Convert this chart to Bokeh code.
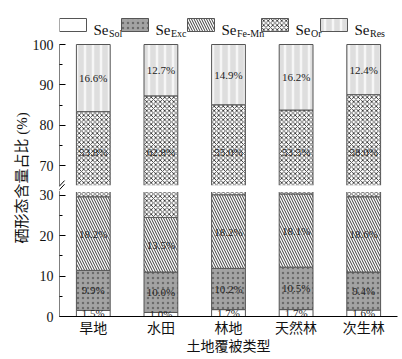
import numpy as np
from bokeh.plotting import figure
from bokeh.models import Range1d, FactorRange, FixedTicker, BoxAnnotation, Arrow, Title
from bokeh.core.properties import value
from bokeh.embed import file_html
from bokeh.resources import INLINE

# ---------------- data ----------------
categories = ["旱地", "水田", "林地", "天然林", "次生林"]
se_sol = [1.5, 1.0, 1.7, 1.7, 1.6]
se_exc = [9.9, 10.0, 10.2, 10.5, 9.4]
se_femn = [18.2, 13.5, 18.2, 18.1, 18.6]
se_or = [53.8, 62.8, 55.0, 53.5, 58.0]
se_res = [16.6, 12.7, 14.9, 16.2, 12.4]
series_subs = ["Sol", "Exc", "Fe-Mn", "Or", "Res"]
y_ticks_lower = [0, 10, 20, 30]
y_ticks_upper = [70, 80, 90, 100]
y_minor_lower = [5, 15, 25]
y_minor_upper = [75, 85, 95]

# ---------------- styling ----------------
SERIF = "Liberation Serif"
MIXED = "Liberation Serif, Noto Sans CJK SC"
TXT = "#111111"
styles = [
    dict(fill_color="white"),
    dict(fill_color="#a3a3a3", hatch_pattern="dot", hatch_color="#6a6a6a", hatch_scale=5, hatch_weight=1.2),
    dict(fill_color="white", hatch_pattern="left_diagonal_line", hatch_color="#222222", hatch_scale=5, hatch_weight=0.9),
    dict(fill_color="white", hatch_pattern="diagonal_cross", hatch_color="#333333", hatch_scale=4.5, hatch_weight=0.9),
    dict(fill_color="#dedede", hatch_pattern="vertical_line", hatch_color="#f6f6f6", hatch_scale=8, hatch_weight=2.5),
]
LINE = "#555555"

FRAME_W = 338
FRAME_H = 306          # whole frame (legend band on top)
CHART_H = 272          # pixel height of the bar area
PXX = len(categories) / FRAME_W   # x data units per pixel

# broken axis settings
LOW_TOP = 31.0
UP_BOTTOM = 65.0
GAP = 1.25
Y_TOP = LOW_TOP + GAP + (100 - UP_BOTTOM)
UP_OFFSET = UP_BOTTOM - LOW_TOP - GAP
Y_END = Y_TOP * FRAME_H / CHART_H
OR_LABEL_Y = 73.5
BAR_W = 0.5

series = [se_sol, se_exc, se_femn, se_or, se_res]
vals = np.array(series, dtype=float)
tops = np.cumsum(vals, axis=0)
bottoms = tops - vals

p = figure(x_range=FactorRange(*categories), y_range=Range1d(0, Y_END),
           frame_width=FRAME_W, frame_height=FRAME_H,
           output_backend="svg", toolbar_location=None,
           min_border_left=59, min_border_right=1, min_border_top=10, min_border_bottom=36)
p.extra_y_ranges = {"upper": Range1d(UP_OFFSET, UP_OFFSET + Y_END),
                    "px_y": Range1d(0, FRAME_H)}
p.grid.visible = False
p.outline_line_color = None

# ---------------- bars ----------------
for i in range(len(series)):
    b = bottoms[i]; t = tops[i]
    lb = np.minimum(b, LOW_TOP); lt = np.minimum(t, LOW_TOP)
    m = lt > lb + 1e-9
    if m.any():
        p.vbar(x=[c for c, k in zip(categories, m) if k], bottom=lb[m], top=lt[m], width=BAR_W,
               line_color=LINE, line_width=1, **styles[i])
    ub = np.maximum(b, UP_BOTTOM); ut = np.maximum(t, UP_BOTTOM)
    m = ut > ub + 1e-9
    if m.any():
        p.vbar(x=[c for c, k in zip(categories, m) if k], bottom=ub[m], top=ut[m], width=BAR_W,
               line_color=LINE, line_width=1, y_range_name="upper", **styles[i])

# white band hiding the cut edges
p.add_layout(BoxAnnotation(bottom=LOW_TOP - 0.2, top=LOW_TOP + GAP + 0.2, fill_color="white",
                           fill_alpha=1.0, line_color=None))

# ---------------- percentage labels ----------------
lab_kw = dict(text_font=value(SERIF), text_font_size="11px", text_align="center",
              text_baseline="middle", text_color="#222222")
for i in range(len(series)):
    txt = [f"{v:.1f}%" for v in vals[i]]
    mid = (bottoms[i] + tops[i]) / 2
    if i <= 2:
        p.text(x=categories, y=mid, text=txt, **lab_kw)
    elif i == 3:
        p.text(x=categories, y=[OR_LABEL_Y] * len(categories), text=txt, y_range_name="upper", **lab_kw)
    else:
        p.text(x=categories, y=mid, text=txt, y_range_name="upper", **lab_kw)

# ---------------- legend (pixel layout inside the top band) ----------------
box_left = [0, 62, 128, 202, 261]
box_w = 27
lg_bottom, lg_top = FRAME_H - 21, FRAME_H - 8
for i, sub in enumerate(series_subs):
    p.quad(left=[box_left[i] * PXX], right=[(box_left[i] + box_w) * PXX],
           bottom=[lg_bottom], top=[lg_top],
           line_color=LINE, line_width=1, y_range_name="px_y", **styles[i])
    sx = box_left[i] + box_w + 7
    p.text(x=[sx * PXX], y=[FRAME_H - 19.5], text=["Se"], text_font=value(SERIF), text_font_size="15px",
           text_baseline="alphabetic", text_color=TXT, y_range_name="px_y")
    p.text(x=[(sx + 15.5) * PXX], y=[FRAME_H - 22.8], text=[sub], text_font=value(SERIF),
           text_font_size="10px", text_baseline="alphabetic", text_color=TXT, y_range_name="px_y")

# ---------------- axes ----------------
ya = p.yaxis[0]
ya.bounds = (0, Y_TOP)
ya.ticker = FixedTicker(ticks=y_ticks_lower + [v - UP_OFFSET for v in y_ticks_upper],
                        minor_ticks=y_minor_lower + [v - UP_OFFSET for v in y_minor_upper])
ya.major_label_overrides = {v - UP_OFFSET: str(v) for v in y_ticks_upper}
ya.major_tick_in = 6
ya.major_tick_out = 0
ya.minor_tick_in = 3
ya.minor_tick_out = 0
ya.axis_line_color = None
ya.major_tick_line_color = "black"
ya.minor_tick_line_color = "black"
ya.major_label_text_font = SERIF
ya.major_label_text_font_size = "14px"
ya.major_label_text_color = TXT
ya.major_label_standoff = 6

xa = p.xaxis[0]
xa.major_tick_in = 0
xa.major_tick_out = 0
xa.axis_line_color = "black"
xa.major_label_text_font = MIXED
xa.major_label_text_font_size = "14px"
xa.major_label_text_color = TXT
xa.major_label_standoff = 4
xa.axis_label = "土地覆被类型"
xa.axis_label_text_font = MIXED
xa.axis_label_text_font_size = "14px"
xa.axis_label_text_font_style = "normal"
xa.axis_label_text_color = TXT
xa.axis_label_standoff = 0

# y axis line in two pieces (broken)
for y0, y1 in ((0, LOW_TOP), (LOW_TOP + GAP, Y_TOP)):
    p.add_layout(Arrow(end=None, x_start=0, y_start=y0, x_end=0, y_end=y1,
                       line_color="black", line_width=1))

# axis break marks
for dy in (0.0, 0.9):
    p.add_layout(Arrow(end=None, x_start=-0.095, y_start=LOW_TOP - 1.35 + dy,
                       x_end=0.075, y_end=LOW_TOP + GAP + 0.45 + dy,
                       line_color="black", line_width=1))

# y axis title (side title, start-aligned so it sits on the bar area like the original)
p.add_layout(Title(text="硒形态含量占比 (%)", align="left", offset=73,
                   text_font=MIXED, text_font_size="15px", text_font_style="normal",
                   text_color=TXT, standoff=0), "left")

open("out.html", "w").write(file_html(p, INLINE))
